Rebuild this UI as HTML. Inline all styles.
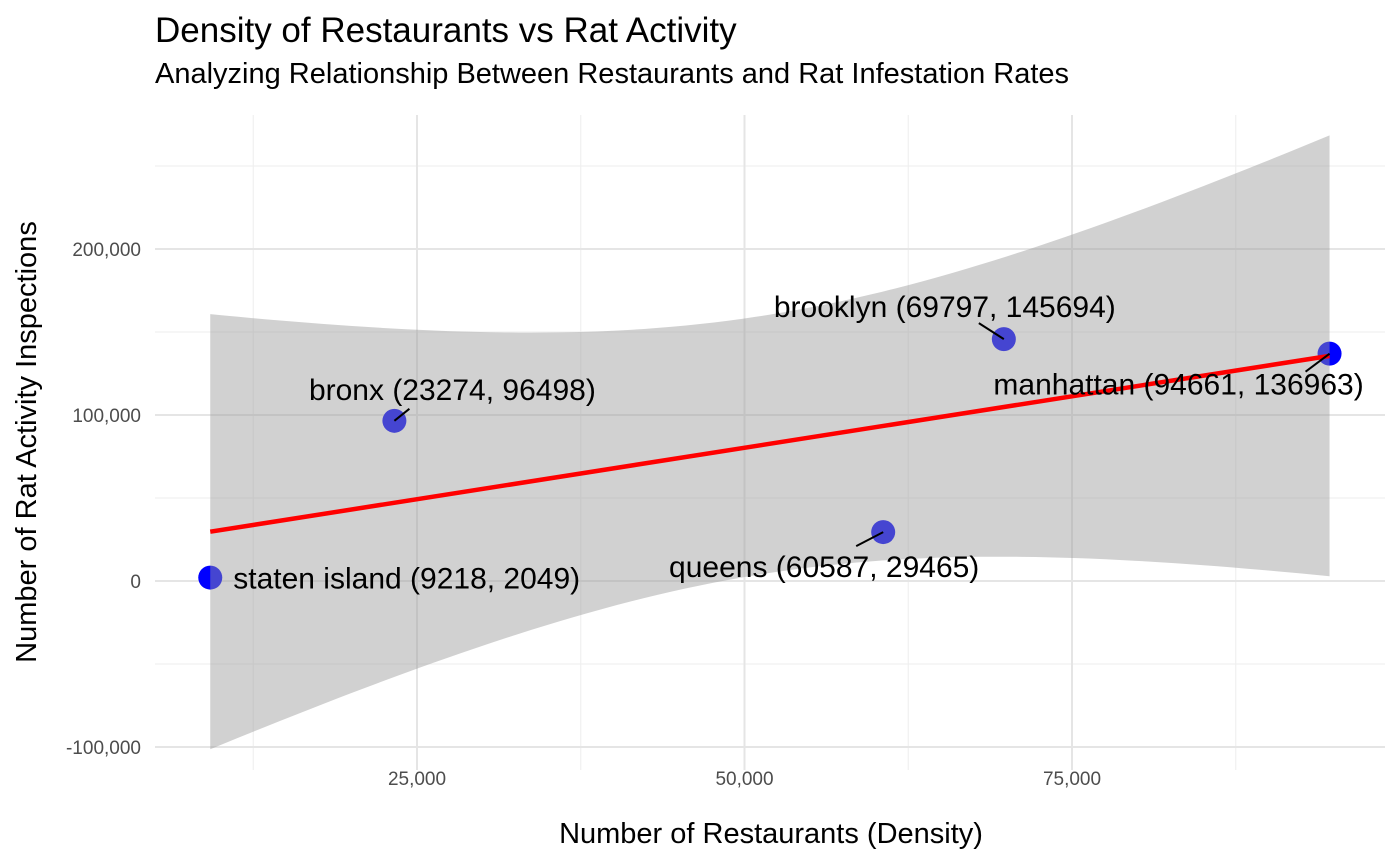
<!DOCTYPE html>
<html><head><meta charset="utf-8"><style>
body{margin:0;background:#fff;}
svg{display:block;font-family:"Liberation Sans",Arial,sans-serif;}
</style></head><body>
<svg id="chart" width="1400" height="865">
<text x="155" y="42" font-size="35" fill="#000">Density of Restaurants vs Rat Activity</text>
<text x="155" y="83" font-size="29" fill="#000">Analyzing Relationship Between Restaurants and Rat Infestation Rates</text>
<g id="grid"></g>
<g id="points"></g>
<g id="band"></g>
<g id="line"></g>
<g id="labels"></g>
<g id="axes"></g>
<text x="771" y="843" font-size="29" text-anchor="middle" fill="#000">Number of Restaurants (Density)</text>
<text transform="translate(36,442) rotate(-90)" font-size="29" text-anchor="middle" fill="#000">Number of Rat Activity Inspections</text>
</svg>
<script>
const boroughs=["staten island","bronx","queens","brooklyn","manhattan"];
const restaurants=[9218,23274,60587,69797,94661];
const inspections=[2049,96498,29465,145694,136963];
const xTicks=[25000,50000,75000];
const xTickLabels=["25,000","50,000","75,000"];
const yTicks=[-100000,0,100000,200000];
const yTickLabels=["-100,000","0","100,000","200,000"];
const labelOffsets=[[23,11,"start",null,0],[58,-21,"middle",15,-12],[-59,45,"middle",-27,14],[-59,-22,"middle",-25,-16],[-151,41,"middle",-24,18]];

const NS="http://www.w3.org/2000/svg";
const X=v=>417+(v-25000)*(327.5/25000);
const Y=v=>581-v*(166/100000);
const L=155,R=1385,T=115,B=770;
function mk(tag,attrs,parent){const e=document.createElementNS(NS,tag);for(const k in attrs)e.setAttribute(k,attrs[k]);document.getElementById(parent).appendChild(e);return e;}

for(let i=0;i<xTicks.length+1;i++){
  const mv=xTicks[0]-12500+i*25000;
  const g=mk("line",{x1:X(mv),x2:X(mv),y1:T,y2:B,stroke:"#eeeeee","stroke-width":1},"grid");
  
  
}
for(let i=0;i<yTicks.length;i++){
  const mv=yTicks[0]+50000+i*100000;
  if(Y(mv)<T)continue;
  const g=mk("line",{x1:L,x2:R,y1:Y(mv),y2:Y(mv),stroke:"#eeeeee","stroke-width":1},"grid");
  
  
}
xTicks.forEach((v,i)=>{
  const g=mk("line",{x1:X(v),x2:X(v),y1:T,y2:B,stroke:"#e5e5e5","stroke-width":2},"grid");
  
  
  const t=mk("text",{x:X(v),y:B+15,"font-size":19,fill:"#4d4d4d","text-anchor":"middle"},"axes");
  t.textContent=xTickLabels[i];
  
  
});
yTicks.forEach((v,i)=>{
  const g=mk("line",{x1:L,x2:R,y1:Y(v),y2:Y(v),stroke:"#e5e5e5","stroke-width":2},"grid");
  
  
  const t=mk("text",{x:141,y:Y(v)+7,"font-size":19,fill:"#4d4d4d","text-anchor":"end"},"axes");
  t.textContent=yTickLabels[i];
  
  
});

restaurants.forEach((v,i)=>{
  const c=mk("circle",{cx:X(v),cy:Y(inspections[i]),r:12,fill:"#0000ff"},"points");
  
  
});

const n=restaurants.length;
const mx=restaurants.reduce((a,b)=>a+b)/n,my=inspections.reduce((a,b)=>a+b)/n;
let sxy=0,sxx=0;
for(let i=0;i<n;i++){sxy+=(restaurants[i]-mx)*(inspections[i]-my);sxx+=(restaurants[i]-mx)**2;}
const b1=sxy/sxx,b0=my-b1*mx;
let sse=0;for(let i=0;i<n;i++)sse+=(inspections[i]-b0-b1*restaurants[i])**2;
const s=Math.sqrt(sse/(n-2)),tq=3.182446;
const xmin=Math.min(...restaurants),xmax=Math.max(...restaurants);
const up=[],lo=[];
for(let k=0;k<=80;k++){
  const xv=xmin+(xmax-xmin)*k/80;const f=b0+b1*xv;
  const se=s*Math.sqrt(1/n+(xv-mx)**2/sxx);
  up.push(X(xv)+","+Y(f+tq*se));lo.unshift(X(xv)+","+Y(f-tq*se));
}
const band=mk("polygon",{points:up.concat(lo).join(" "),fill:"#999999","fill-opacity":0.45},"band");


const ln=mk("line",{x1:X(xmin),y1:Y(b0+b1*xmin),x2:X(xmax),y2:Y(b0+b1*xmax),stroke:"#ff0000","stroke-width":4.5},"line");



restaurants.forEach((v,i)=>{
  const px=X(v),py=Y(inspections[i]);
  const [dx,dy,anc,cdx,cdy]=labelOffsets[i];
  if(cdx!==null){
    const seg=mk("line",{x1:px,y1:py,x2:px+cdx,y2:py+cdy,stroke:"#000","stroke-width":2},"labels");
    
    
  }
  const t=mk("text",{x:px+dx,y:py+dy,"font-size":30,fill:"#000","text-anchor":anc},"labels");
  t.textContent=boroughs[i]+" ("+v+", "+inspections[i]+")";
  
  
});
</script>
</body></html>
